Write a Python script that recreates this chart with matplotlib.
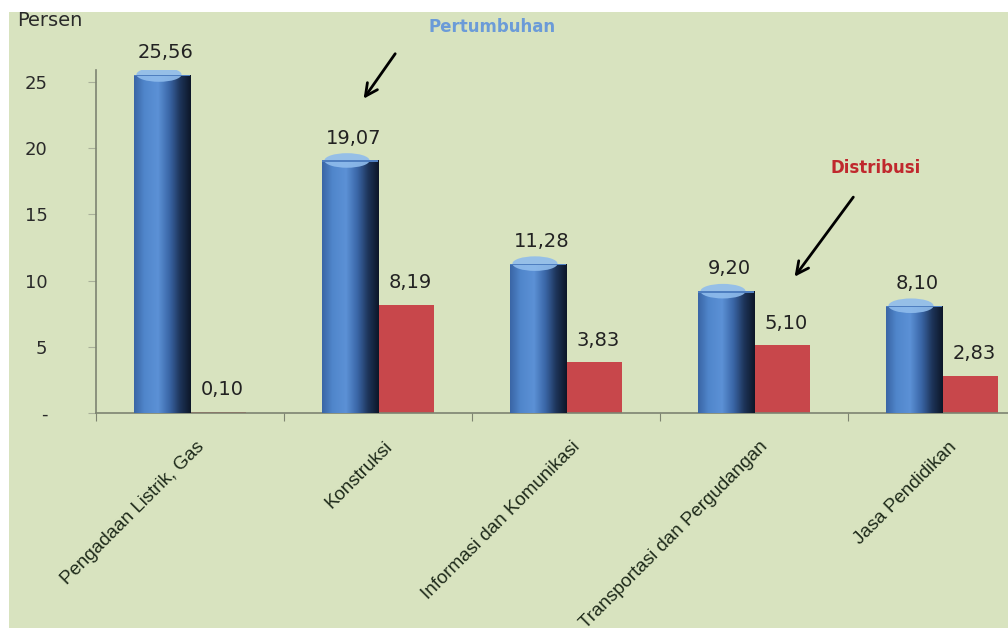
import numpy as np
import matplotlib
matplotlib.use("Agg")
import matplotlib.pyplot as plt
from matplotlib.colors import LinearSegmentedColormap
from matplotlib.patches import Rectangle, Ellipse

# data
kategori = [
    "Pengadaan Listrik, Gas",
    "Konstruksi",
    "Informasi dan Komunikasi",
    "Transportasi dan Pergudangan",
    "Jasa Pendidikan",
]
pertumbuhan = [25.56, 19.07, 11.28, 9.20, 8.10]
distribusi = [0.10, 8.19, 3.83, 5.10, 2.83]
yticks = [0, 5, 10, 15, 20, 25]
ytick_labels = ["-", "5", "10", "15", "20", "25"]

bg = "#d8e3bf"
merah = "#c8474b"
abu = "#7d8471"

fig = plt.figure(figsize=(10.08, 6.28), dpi=100, facecolor="white")
# green panel with white strip at top / left
fig.patches.append(Rectangle((9 / 1008, 0), 1, 1 - 12 / 628, transform=fig.transFigure,
                             facecolor=bg, edgecolor="none", zorder=-10))

ax = fig.add_axes([96 / 1008, 1 - 413 / 628, 1 - 96 / 1008, (413 - 70) / 628])
ax.patch.set_alpha(0)

x = np.arange(len(kategori))
w = 0.3

blue_cmap = LinearSegmentedColormap.from_list(
    "silinder",
    [(0.0, "#3a66a6"), (0.18, "#5086cb"), (0.42, "#5c91d6"),
     (0.62, "#3b67a8"), (0.82, "#1d3459"), (1.0, "#0d1729")])
grad = np.linspace(0, 1, 64).reshape(1, -1)

bars_b = ax.bar(x - w / 2, pertumbuhan, w, color="#4a7cc0", zorder=2, linewidth=0)
bars_r = ax.bar(x + w / 2, distribusi, w, color=merah, zorder=2, linewidth=0)

for b in bars_b:
    x0, h = b.get_x(), b.get_height()
    im = ax.imshow(grad, extent=[x0, x0 + w, 0, h], cmap=blue_cmap,
                   aspect="auto", zorder=3, interpolation="bilinear")
    im.set_clip_path(b)
    top = Ellipse((x0 + w * 0.45, h), w * 0.8, 1.1, facecolor="#8fbcec",
                  edgecolor="none", zorder=4, alpha=0.9)
    top.set_clip_path(b)
    ax.add_patch(top)
    ax.add_patch(Rectangle((x0, h - 0.12), w, 0.12, facecolor="#4f7fc0",
                           edgecolor="none", zorder=4))

for b in list(bars_b) + list(bars_r):
    h = b.get_height()
    ax.annotate(f"{h:.2f}".replace(".", ","), (b.get_x() + b.get_width() / 2 + 0.02, h),
                xytext=(0, 16), textcoords="offset points", ha="center", va="center",
                fontsize=14, color="#222222", zorder=5)

for s in ["top", "right"]:
    ax.spines[s].set_visible(False)
for s in ["left", "bottom"]:
    ax.spines[s].set_color(abu)
    ax.spines[s].set_linewidth(1.2)

ax.set_yticks(yticks)
ax.set_yticklabels(ytick_labels, fontsize=13, color="#2a2a2a")
ax.tick_params(axis="y", direction="out", length=6, color="#a9b09a", pad=29)

ax.set_xticks(np.arange(len(kategori) + 1) - 0.5)
ax.set_xticklabels([])
ax.tick_params(axis="x", which="major", direction="out", length=6, color=abu)
ax.set_xticks(x + 0.03, minor=True)
ax.set_xticklabels(kategori, minor=True, rotation=45, ha="right", va="top",
                   rotation_mode="anchor", fontsize=13.5, color="#1e2a1a",
                   family=["Liberation Sans", "DejaVu Sans"])
ax.tick_params(axis="x", which="minor", length=0, pad=18)

# limits last: set_xticks widens the view
ax.set_xlim(-0.5, (1008 - 96) / 188 - 0.5)
ax.set_ylim(0, 25.9)

fig.text(17 / 1008, 1 - 20 / 628, "Persen", fontsize=14, color="#2a2a2a",
         ha="left", va="center")

ax.annotate("", xy=(0.915, 23.56), xytext=(1.10, 27.3),
            arrowprops=dict(arrowstyle="->", color="black", lw=2, mutation_scale=22),
            annotation_clip=False, zorder=6)
ax.text(1.606, 29.15, "Pertumbuhan", fontsize=12, fontweight="bold",
        color="#6b9bd8", ha="center", va="center", clip_on=False)

ax.annotate("", xy=(3.207, 10.12), xytext=(3.537, 16.47),
            arrowprops=dict(arrowstyle="->", color="black", lw=2, mutation_scale=22),
            annotation_clip=False, zorder=6)
ax.text(3.649, 18.5, "Distribusi", fontsize=12, fontweight="bold",
        color="#c0282d", ha="center", va="center", clip_on=False)

fig.savefig("out.png", dpi=100, facecolor=fig.get_facecolor())
